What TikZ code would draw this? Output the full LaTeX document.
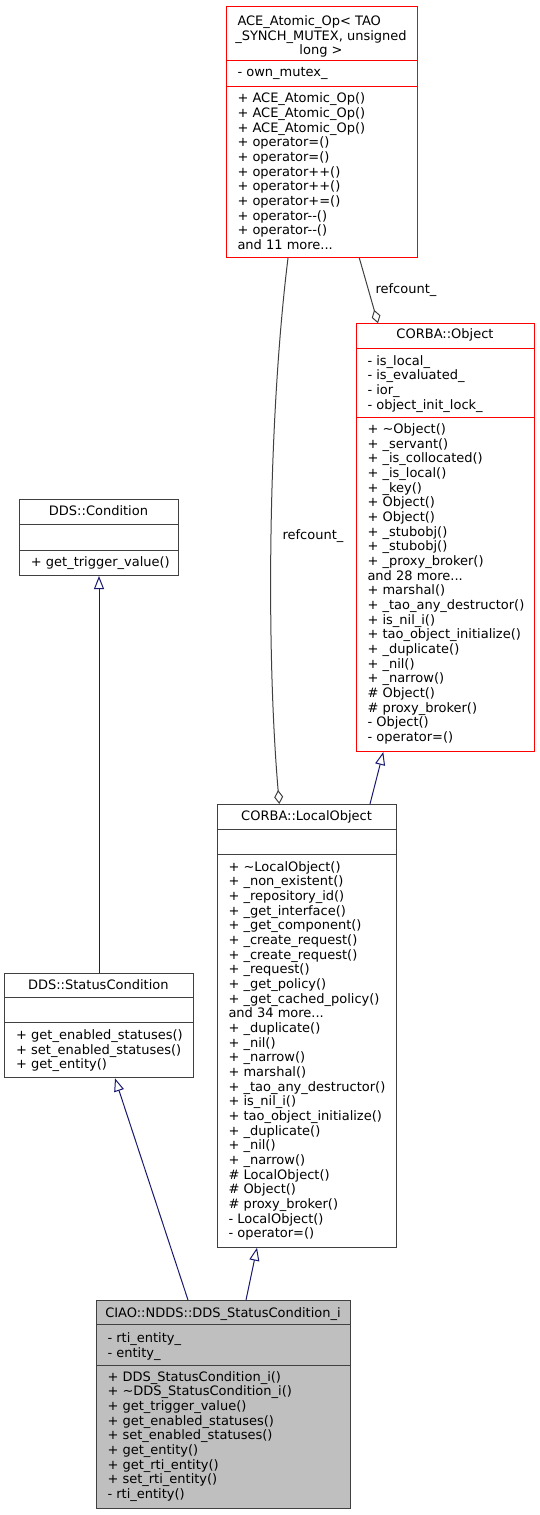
\documentclass[tikz,border=0pt]{standalone}
\usepackage{fontspec}
\setmainfont{DejaVu Sans}
\usetikzlibrary{arrows.meta}
\definecolor{edgenavy}{HTML}{191970}
\definecolor{boxred}{HTML}{FF0000}
\definecolor{boxgray}{HTML}{404040}
\definecolor{fillgray}{HTML}{BFBFBF}
\definecolor{aggcol}{HTML}{404040}
\newcommand\tdots{...}
\newcommand\tlines[4]{\foreach \t [count=\i from 0] in {#4}{\node[txt] (#1-\i) at (#2,{#3+\i*14.66}) {\t};}}
\begin{document}
\begin{tikzpicture}[x=1pt,y=-1pt,
  txt/.style={anchor=base west, inner sep=0, font=\fontsize{13}{14.7}\selectfont},
  ttl/.style={anchor=base, inner sep=0, font=\fontsize{13}{14.7}\selectfont},
  lbl/.style={inner sep=0, font=\fontsize{13}{14.7}\selectfont},
  redbox/.style={draw=boxred, line width=1pt, fill=white, inner sep=0, anchor=north west},
  graybox/.style={draw=boxgray, line width=1pt, fill=white, inner sep=0, anchor=north west},
  redsep/.style={draw=boxred, line width=1pt},
  graysep/.style={draw=boxgray, line width=1pt},
  aggr/.style={draw=aggcol, line width=1pt, -{Diamond[open, length=14pt, width=9pt]}},
  inh/.style={draw=edgenavy, line width=1pt, -{Triangle[open, length=13pt, width=10pt]}}]
\useasboundingbox (0,0) rectangle (540,1515);

% ACE_Atomic_Op
\node[redbox, minimum width=191pt, minimum height=251pt] (ace) at (225.5,6) {};
\draw[redsep] (225.5,60.7) -- (416.5,60.7);
\draw[redsep] (225.5,86) -- (416.5,86);
\node[txt] (acet1) at (237.3,25.5) {ACE\_Atomic\_Op< TAO};
\node[ttl] (acet2) at (321,40.2) {\_SYNCH\_MUTEX, unsigned};
\node[ttl] (acet3) at (321,54.9) {long >};
\tlines{acea}{237.3}{76.8}{- own\_mutex\_}
\tlines{acem}{237.3}{102.8}{+ ACE\_Atomic\_Op(),+ ACE\_Atomic\_Op(),+ ACE\_Atomic\_Op(),+ operator=(),+ operator=(),+ operator++(),+ operator++(),+ operator+=(),+ operator-{}-(),+ operator-{}-(),and 11 more\tdots}

% CORBA::Object
\node[redbox, minimum width=178pt, minimum height=427.7pt] (obj) at (356,323.3) {};
\draw[redsep] (356,348) -- (534,348);
\draw[redsep] (356,417.7) -- (534,417.7);
\node[ttl] (objt) at (445,338.5) {CORBA::Object};
\tlines{obja}{367.3}{365.2}{- is\_local\_,- is\_evaluated\_,- ior\_,- object\_init\_lock\_}
\tlines{objm}{367.3}{433.5}{+ \textasciitilde Object(),+ \_servant(),+ \_is\_collocated(),+ \_is\_local(),+ \_key(),+ Object(),+ Object(),+ \_stubobj(),+ \_stubobj(),+ \_proxy\_broker(),and 28 more\tdots,+ marshal(),+ \_tao\_any\_destructor(),+ is\_nil\_i(),+ tao\_object\_initialize(),+ \_duplicate(),+ \_nil(),+ \_narrow(),\# Object(),\# proxy\_broker(),- Object(),- operator=()}

% DDS::Condition
\node[graybox, minimum width=159pt, minimum height=75.7pt] (cond) at (19,499.3) {};
\draw[graysep] (19,524) -- (178,524);
\draw[graysep] (19,550.7) -- (178,550.7);
\node[ttl] (condt) at (98.5,515.2) {DDS::Condition};
\tlines{condm}{30.7}{566.2}{+ get\_trigger\_value()}

% CORBA::LocalObject
\node[graybox, minimum width=178.7pt, minimum height=442.7pt] (lobj) at (217.3,804) {};
\draw[graysep] (217.3,829.3) -- (396,829.3);
\draw[graysep] (217.3,854.3) -- (396,854.3);
\node[ttl] (lobjt) at (306.6,820.5) {CORBA::LocalObject};
\tlines{lobjm}{228.3}{871.2}{+ \textasciitilde LocalObject(),+ \_non\_existent(),+ \_repository\_id(),+ \_get\_interface(),+ \_get\_component(),+ \_create\_request(),+ \_create\_request(),+ \_request(),+ \_get\_policy(),+ \_get\_cached\_policy(),and 34 more\tdots,+ \_duplicate(),+ \_nil(),+ \_narrow(),+ marshal(),+ \_tao\_any\_destructor(),+ is\_nil\_i(),+ tao\_object\_initialize(),+ \_duplicate(),+ \_nil(),+ \_narrow(),\# LocalObject(),\# Object(),\# proxy\_broker(),- LocalObject(),- operator=()}

% DDS::StatusCondition
\node[graybox, minimum width=188.7pt, minimum height=104.6pt] (scond) at (4,972.7) {};
\draw[graysep] (4,997.3) -- (192.7,997.3);
\draw[graysep] (4,1022.3) -- (192.7,1022.3);
\node[ttl] (scondt) at (98.3,989.5) {DDS::StatusCondition};
\tlines{scondm}{16}{1039.5}{+ get\_enabled\_statuses(),+ set\_enabled\_statuses(),+ get\_entity()}

% CIAO::NDDS::DDS_StatusCondition_i
\node[graybox, fill=fillgray, minimum width=254pt, minimum height=208.3pt] (ciao) at (96,1300) {};
\draw[graysep] (96,1324.3) -- (350,1324.3);
\draw[graysep] (96,1365) -- (350,1365);
\node[ttl] (ciaot) at (223,1317.2) {CIAO::NDDS::DDS\_StatusCondition\_i};
\tlines{ciaoa}{107.3}{1342.8}{- rti\_entity\_,- entity\_}
\tlines{ciaom}{107.3}{1381.2}{+ DDS\_StatusCondition\_i(),+ \textasciitilde DDS\_StatusCondition\_i(),+ get\_trigger\_value(),+ get\_enabled\_statuses(),+ set\_enabled\_statuses(),+ get\_entity(),+ get\_rti\_entity(),+ set\_rti\_entity(),- rti\_entity()}

% connectors
\draw[aggr] (288,0 |- ace.south) .. controls (268,420) and (266,650) .. (279.3,0 |- lobj.north);
\node[lbl] (lab1) at (313,536) {refcount\_};
\draw[aggr] (359.3,0 |- ace.south) -- (378,0 |- obj.north);
\node[lbl] (lab2) at (406,290) {refcount\_};
\draw[inh] (370,0 |- lobj.north) -- (383.3,0 |- obj.south);
\draw[inh] (99,0 |- scond.north) -- (99,0 |- cond.south);
\draw[inh] (188,0 |- ciao.north) -- (115,0 |- scond.south);
\draw[inh] (246,0 |- ciao.north) -- (257,0 |- lobj.south);
\end{tikzpicture}
\end{document}
